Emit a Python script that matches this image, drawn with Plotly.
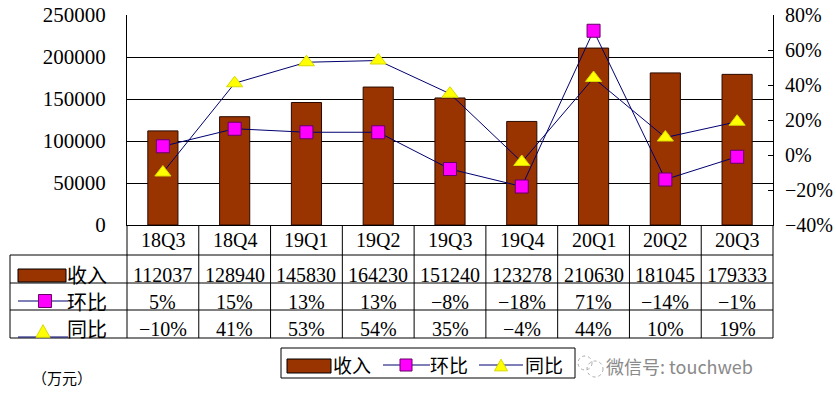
import plotly.graph_objects as go

# ---------------- data ----------------
quarters = ["18Q3", "18Q4", "19Q1", "19Q2", "19Q3", "19Q4", "20Q1", "20Q2", "20Q3"]
revenue = [112037, 128940, 145830, 164230, 151240, 123278, 210630, 181045, 179333]
qoq_pct = [5, 15, 13, 13, -8, -18, 71, -14, -1]      # 环比
yoy_pct = [-10, 41, 53, 54, 35, -4, 44, 10, 19]      # 同比
series_names = ["收入", "环比", "同比"]
unit_label = "（万元）"
watermark = "微信号: touchweb"

# ---------------- layout geometry ----------------
W, H = 836, 402
L, R, T, B = 127, 773, 15, 225   # plot area in pixels
PW, PH = R - L, B - T

def X(px):
    return (px - L) / PW

def Y(py):
    return (B - py) / PH

FONT = "Liberation Serif, Times New Roman, serif"
CJK = "Noto Sans CJK SC, sans-serif"
BAR_COLOR = "#993300"
LINE_COLOR = "#000070"
SQ_COLOR = "#FF00FF"
TRI_COLOR = "#FFFF00"

fig = go.Figure()

fig.add_trace(go.Bar(
    x=quarters, y=revenue, name=series_names[0],
    marker=dict(color=BAR_COLOR, line=dict(color="#2a0a00", width=1)),
    width=0.42, yaxis="y",
))
fig.add_trace(go.Scatter(
    x=quarters, y=[v / 100 for v in qoq_pct], name=series_names[1], yaxis="y2",
    mode="lines+markers",
    line=dict(color=LINE_COLOR, width=1),
    marker=dict(symbol="square", size=13, color=SQ_COLOR, line=dict(color="#660066", width=1)),
))
fig.add_trace(go.Scatter(
    x=quarters, y=[v / 100 for v in yoy_pct], name=series_names[2], yaxis="y2",
    mode="lines+markers",
    line=dict(color=LINE_COLOR, width=1),
    marker=dict(symbol="triangle-up", size=14, color=TRI_COLOR, line=dict(color="#D8D800", width=1)),
))

shapes = []
annotations = []

def hline(py, x0, x1):
    shapes.append(dict(type="line", xref="paper", yref="paper", x0=X(x0), x1=X(x1),
                       y0=Y(py), y1=Y(py), line=dict(color="black", width=1), layer="above"))

def vline_px(px, y0, y1):
    shapes.append(dict(type="line", xref="paper", yref="paper", x0=X(px), x1=X(px),
                       y0=Y(y0), y1=Y(y1), line=dict(color="black", width=1), layer="above"))

# table grid
row_lines = [255, 283, 310, 338]
for py in row_lines:
    hline(py, 10, R)
vline_px(10, 255, 338)
vline_px(L, 225, 338)
vline_px(R, 225, 338)
n = len(quarters)
for i in range(n - 1):
    shapes.append(dict(type="line", xref="x", yref="paper", x0=i + 0.5, x1=i + 0.5,
                       y0=Y(225), y1=Y(338), line=dict(color="black", width=1), layer="above"))

def fmt_pct(v):
    return (f"{v}%").replace("-", "−")

row_y = {"head": 240, "rev": 275, "qoq": 302, "yoy": 329}
for i, q in enumerate(quarters):
    for key, txt in (("head", q), ("rev", str(revenue[i])),
                     ("qoq", fmt_pct(qoq_pct[i])), ("yoy", fmt_pct(yoy_pct[i]))):
        annotations.append(dict(x=q, xref="x", y=Y(row_y[key]), yref="paper", text=txt,
                                xanchor="center", yanchor="middle",
                                showarrow=False, font=dict(family=FONT, size=20, color="black")))

def bar_sym(x0, y0, x1, y1):
    shapes.append(dict(type="rect", xref="paper", yref="paper", x0=X(x0), x1=X(x1), y0=Y(y0), y1=Y(y1),
                       fillcolor=BAR_COLOR, line=dict(color="black", width=1), layer="above"))

def line_sym(x0, x1, py):
    shapes.append(dict(type="line", xref="paper", yref="paper", x0=X(x0), x1=X(x1), y0=Y(py), y1=Y(py),
                       line=dict(color=LINE_COLOR, width=1), layer="above"))

def sq_sym(cx, cy, s=12):
    shapes.append(dict(type="rect", xref="paper", yref="paper", x0=X(cx - s / 2), x1=X(cx + s / 2),
                       y0=Y(cy - s / 2), y1=Y(cy + s / 2), fillcolor=SQ_COLOR,
                       line=dict(color="#660066", width=1), layer="above"))

def tri_sym(cx, cy, s=13):
    h = s * 0.9
    path = (f"M {X(cx - s/2)} {Y(cy + h/2)} L {X(cx + s/2)} {Y(cy + h/2)} "
            f"L {X(cx)} {Y(cy - h/2)} Z")
    shapes.append(dict(type="path", xref="paper", yref="paper", path=path, fillcolor=TRI_COLOR,
                       line=dict(color="#D8D800", width=1), layer="above"))

def label(px, py, text, size=20, color="black", family=CJK, xanchor="left"):
    annotations.append(dict(x=X(px), xref="paper", y=Y(py), yref="paper", text=text, showarrow=False,
                            xanchor=xanchor, yanchor="middle",
                            font=dict(family=family, size=size, color=color)))

# table row headers
bar_sym(18, 269, 66, 282)
label(65, 274, series_names[0], size=20)
line_sym(18, 68, 301)
sq_sym(45, 301, 13)
label(65, 301, series_names[1], size=20)
line_sym(18, 68, 337)
tri_sym(43, 331, 14)
label(65, 328, series_names[2], size=20)

# bottom legend box
shapes.append(dict(type="rect", xref="paper", yref="paper", x0=X(281), x1=X(575), y0=Y(348), y1=Y(378),
                   line=dict(color="black", width=1), fillcolor="rgba(0,0,0,0)", layer="above"))
bar_sym(287, 359, 331, 373)
label(331, 364, series_names[0], size=19)
line_sym(383, 430, 365)
sq_sym(406, 365, 12)
label(428, 364, series_names[1], size=19)
line_sym(479, 523, 365)
tri_sym(501, 365, 13)
label(523, 364, series_names[2], size=19)

# unit label
label(30, 377, unit_label, size=15)

# watermark logo + text
for (cx, cy, r) in [(585, 363, 7), (595, 369, 8)]:
    shapes.append(dict(type="circle", xref="paper", yref="paper", x0=X(cx - r), x1=X(cx + r),
                       y0=Y(cy - r), y1=Y(cy + r), line=dict(color="#aaaaaa", width=1, dash="dot"),
                       layer="above"))
label(604, 366, watermark, size=18, color="#8a8a8a")

fig.update_layout(
    width=W, height=H,
    margin=dict(l=L, r=W - R, t=T, b=H - B, pad=0, autoexpand=False),
    paper_bgcolor="white", plot_bgcolor="white",
    showlegend=False,
    font=dict(family=FONT, size=20, color="black"),
    xaxis=dict(type="category", showticklabels=False, ticks="", showgrid=False,
               showline=True, linecolor="black", linewidth=1, zeroline=False,
               range=[-0.5, n - 0.5], automargin=False),
    yaxis=dict(range=[0, 250000], dtick=50000, showgrid=True, gridcolor="black", gridwidth=1,
               showline=True, linecolor="black", linewidth=1, ticks="", zeroline=False,
               tickfont=dict(family=FONT, size=21, color="black"), tickformat="d",
               ticklabelstandoff=16, automargin=False),
    yaxis2=dict(range=[-0.4, 0.8], dtick=0.2, overlaying="y", side="right", showgrid=False,
                zeroline=False, showline=True, linecolor="black", linewidth=1,
                ticks="inside", ticklen=5, tickcolor="black", tickformat=".0%",
                tickfont=dict(family=FONT, size=20, color="black"), ticklabelstandoff=7,
                automargin=False),
    shapes=shapes,
    annotations=annotations,
)

fig.write_html("out.html", config={"displayModeBar": False},
               post_script="document.body.style.margin='0';")
